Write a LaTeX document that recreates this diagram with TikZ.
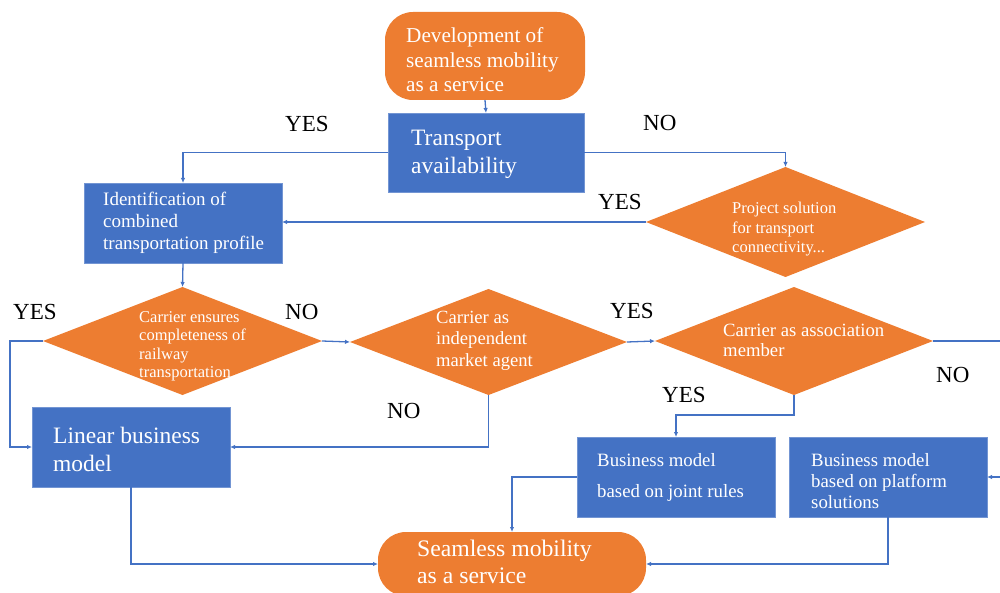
\documentclass[tikz,border=0pt]{standalone}
\usepackage{fontspec}
\setmainfont{Liberation Serif}
\usetikzlibrary{shapes.geometric,arrows.meta}
\definecolor{flowblue}{HTML}{4472C4}
\definecolor{floworange}{HTML}{ED7D31}
\tikzset{
  box/.style={rectangle, fill=flowblue, draw=flowblue!75!white, line width=0.6pt, inner sep=0pt, outer sep=0pt},
  decision/.style={diamond, fill=floworange, inner sep=0pt, outer sep=0pt},
  terminal/.style={rectangle, rounded corners=28pt, fill=floworange, inner sep=0pt, outer sep=0pt},
  % multi-line texts are placed by the baseline of their last line
  txt/.style={text=white, align=left, inner sep=0pt, anchor=base west},
  lbl/.style={text=black, inner sep=0pt, anchor=base west, font=\fontsize{23}{27}\selectfont},
  conn/.style={draw=flowblue, line width=1.3pt, -{Latex[length=5pt,width=4.5pt]}},
}
\begin{document}
\begin{tikzpicture}[x=1pt,y=-1pt]
\useasboundingbox (0,0) rectangle (1000,593);

% shapes
\node[terminal, minimum width=200, minimum height=88] (dev) at (485,56) {};
\node[box, minimum width=196, minimum height=79] (avail) at (486,152.5) {};
\node[box, minimum width=198, minimum height=80] (ident) at (183,223) {};
\node[decision, minimum width=279, minimum height=110] (proj) at (785.5,222) {};
\node[decision, minimum width=279, minimum height=108] (d1) at (182.5,341) {};
\node[decision, minimum width=277, minimum height=106] (d2) at (488.5,342) {};
\node[decision, minimum width=278, minimum height=108] (d3) at (794,341) {};
\node[box, minimum width=198, minimum height=80] (linear) at (131,447) {};
\node[box, minimum width=198, minimum height=80] (joint) at (676,477) {};
\node[box, minimum width=198, minimum height=80] (platf) at (888,477) {};
\node[terminal, minimum width=268, minimum height=64] (seam) at (512,564) {};

% texts inside shapes
\node[txt, font=\fontsize{21.2}{24.5}\selectfont] (devt) at (406,92) {Development of\\seamless mobility\\as a service};
\node[txt, font=\fontsize{23.5}{28}\selectfont] (availt) at (411,174) {Transport\\availability};
\node[txt, font=\fontsize{19}{22}\selectfont] (identt) at (103,250) {Identification of\\combined\\transportation profile};
\node[txt, font=\fontsize{16.5}{19.5}\selectfont] (projt) at (732,253) {Project solution\\for transport\\connectivity...};
\node[txt, font=\fontsize{16.5}{18.5}\selectfont] (d1t) at (139,377.5) {Carrier ensures\\completeness of\\railway\\transportation};
\node[txt, font=\fontsize{18.6}{21.5}\selectfont] (d2t) at (436,366) {Carrier as\\independent\\market agent};
\node[txt, font=\fontsize{18.7}{20.5}\selectfont] (d3t) at (723,356.5) {Carrier as association\\member};
\node[txt, font=\fontsize{23.5}{28}\selectfont] (lineart) at (53,471) {Linear business\\model};
\node[txt, font=\fontsize{18.8}{21}\selectfont] (jointt) at (597,497) {Business model\\[10pt]based on joint rules};
\node[txt, font=\fontsize{18.8}{21}\selectfont] (platft) at (811,508) {Business model\\based on platform\\solutions};
\node[txt, font=\fontsize{23.7}{27}\selectfont] (seamt) at (417,583) {Seamless mobility\\as a service};

% connectors
\draw[conn] (dev.south) -- (avail.north);
\draw[conn] (avail.west) -| (ident.north);
\draw[conn] (avail.east) -| (proj.north);
\draw[conn] (proj.west) -- (proj.west -| ident.east);
\draw[conn] (ident.south) -- (d1.north);
\draw[conn] (d1.west) -- ++(-33,0) |- (linear.west);
\draw[conn] (d1.east) -- (d2.west);
\draw[conn] (d2.south) |- (linear.east);
\draw[conn] (d2.east) -- (d3.west);
\draw[conn] (d3.south) -- ++(0,20) -| (joint.north);
\draw[conn] (d3.east) -- ++(77,0) |- (platf.east);
\draw[conn] (joint.west) -| (seam.north);
\draw[conn] (linear.south) |- (seam.west);
\draw[conn] (platf.south) |- (seam.east);

% branch labels
\node[lbl] (l1) at (285,132) {YES};
\node[lbl] (l2) at (643,131) {NO};
\node[lbl] (l3) at (598,210) {YES};
\node[lbl] (l4) at (13,319) {YES};
\node[lbl] (l5) at (285,319) {NO};
\node[lbl] (l6) at (387,418) {NO};
\node[lbl] (l7) at (610,318) {YES};
\node[lbl] (l8) at (662,402) {YES};
\node[lbl] (l9) at (936,382) {NO};
\end{tikzpicture}
\end{document}
